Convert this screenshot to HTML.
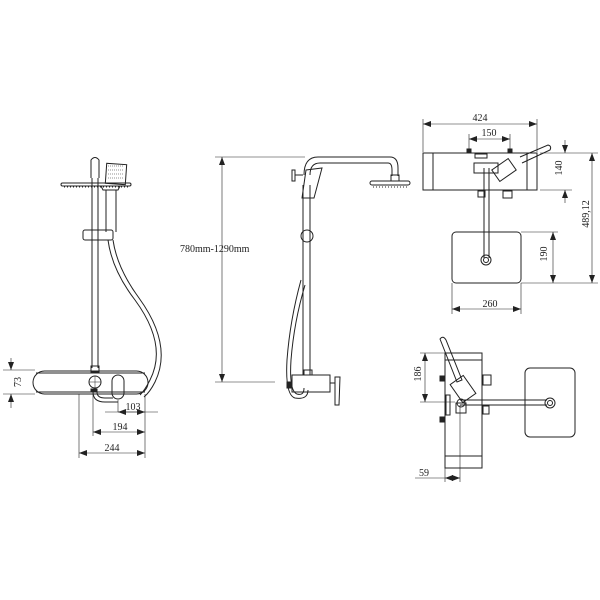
<!DOCTYPE html>
<html><head><meta charset="utf-8"><style>
html,body{margin:0;padding:0;background:#fff}
svg{display:block}
text{font-family:"Liberation Serif",serif;font-size:10px;fill:#222}
</style></head><body>
<svg width="600" height="600" viewBox="0 0 600 600" xmlns="http://www.w3.org/2000/svg">
<defs>
<marker id="a" markerWidth="8" markerHeight="6" refX="8" refY="3" orient="auto-start-reverse" markerUnits="userSpaceOnUse"><path d="M0,0 L8,3 L0,6 z" fill="#222"/></marker>
</defs>
<g fill="none" stroke="#222" stroke-width="1">
<!-- ===== VIEW 1 ===== -->
<!-- rail -->
<line x1="92" y1="178" x2="92" y2="368"/><line x1="98" y1="178" x2="98" y2="368"/>
<path d="M91,178 L91,160 Q95,155 99,160 L99,178"/>
<!-- head disc -->
<rect x="61" y="183" width="70" height="3" rx="1.5"/>
<path d="M64,187 h64" stroke-dasharray="1 2"/>
<!-- hand shower -->
<rect x="106" y="164" width="20" height="20" transform="rotate(4 116 174)"/>
<path d="M108,166 h16 M108,170 h16 M108,174 h16 M108,178 h16" stroke-width="0.5" stroke-dasharray="1 1"/>
<path d="M101,186 L103,190 L118,190 L120,186"/>
<line x1="106" y1="190" x2="106" y2="232"/><line x1="116" y1="190" x2="116" y2="232"/>
<!-- bracket -->
<rect x="83" y="230" width="30" height="10" rx="2"/>
<line x1="98" y1="230" x2="98" y2="240"/>
<!-- hose -->
<path d="M108,240 Q112,270 135,300 Q168,345 150,380 Q145,390 140,395"/>
<path d="M113,240 Q117,268 139,298 Q173,345 155,382 Q150,392 144,397"/>
<!-- body -->
<rect x="33" y="371" width="115" height="23" rx="11.5"/>
<line x1="36" y1="373" x2="145" y2="373"/>
<line x1="36" y1="392" x2="145" y2="392"/>
<rect x="91" y="366" width="8" height="6"/>
<circle cx="95" cy="382" r="6"/>
<path d="M95,376 v12 M89,382 h12" stroke-width="0.5"/>
<rect x="112" y="375" width="12" height="24" rx="6"/>
<path d="M93,392 Q93,402 105,402 L118,402"/>
<path d="M97,392 Q97,398 105,398 L113,398"/>
<rect x="91" y="389" width="6" height="3" fill="#222"/>
<!-- dims view 1 -->
<g stroke-width="0.6">
<line x1="3" y1="370" x2="35" y2="370"/><line x1="3" y1="394" x2="35" y2="394"/>
<line x1="11" y1="358" x2="11" y2="370" marker-end="url(#a)"/>
<line x1="11" y1="408" x2="11" y2="394" marker-end="url(#a)"/>
<line x1="79" y1="394" x2="79" y2="458"/><line x1="93" y1="394" x2="93" y2="436"/>
<line x1="118" y1="400" x2="118" y2="412"/><line x1="145" y1="394" x2="145" y2="458"/>
<line x1="105" y1="412" x2="158" y2="412"/>
<line x1="118" y1="412" x2="145" y2="412" marker-start="url(#a)" marker-end="url(#a)"/>
<line x1="93" y1="432" x2="145" y2="432" marker-start="url(#a)" marker-end="url(#a)"/>
<line x1="79" y1="453" x2="145" y2="453" marker-start="url(#a)" marker-end="url(#a)"/>
</g>
<!-- ===== VIEW 2 ===== -->
<g stroke-width="0.6">
<line x1="215" y1="157" x2="305" y2="157"/>
<line x1="215" y1="382" x2="275" y2="382"/>
<line x1="222" y1="157" x2="222" y2="382" marker-start="url(#a)" marker-end="url(#a)"/>
</g>
<line x1="303" y1="185" x2="303" y2="375"/><line x1="310" y1="185" x2="310" y2="375"/>
<path d="M304,175 Q304,157 318,157 L390,157 Q398,157 398,168 L398,176"/>
<path d="M310,175 Q310,163 320,163 L388,163 Q392,163 392,170 L392,176"/>
<rect x="391" y="175" width="8" height="6"/>
<rect x="370" y="181" width="40" height="4" rx="2"/>
<path d="M373,187 h35" stroke-dasharray="1 2"/>
<!-- holder -->
<rect x="292" y="170" width="3" height="11"/><line x1="295" y1="175" x2="303" y2="175"/>
<path d="M306,170 L322,168 L314,198 L302,198 Z"/>
<circle cx="307" cy="236" r="6"/>
<!-- hose -->
<path d="M301,280 Q290,320 287,360 Q285,395 295,398 Q308,400 308,390"/>
<path d="M305,285 Q294,322 291,360 Q289,391 297,394 Q304,396 304,388"/>
<!-- body -->
<rect x="304" y="370" width="8" height="5"/>
<rect x="292" y="375" width="38" height="17"/>
<rect x="287" y="382" width="5" height="6" fill="#222"/>
<path d="M335,377 L340,377 L339,405 L335,405 Z"/>
<line x1="330" y1="383" x2="335" y2="383"/>
<!-- ===== VIEW 3 ===== -->
<rect x="423" y="153" width="114" height="37"/>
<line x1="433" y1="153" x2="433" y2="190"/><line x1="527" y1="153" x2="527" y2="190"/>
<rect x="467" y="149" width="4" height="4" fill="#222"/><rect x="508" y="149" width="4" height="4" fill="#222"/>
<rect x="475" y="154" width="12" height="4"/>
<rect x="474" y="163" width="24" height="10"/>
<rect x="478" y="191" width="7" height="6"/><rect x="503" y="191" width="9" height="7"/>
<rect x="452" y="232" width="69" height="51" rx="4"/>
<line x1="484" y1="168" x2="484" y2="258"/><line x1="489" y1="168" x2="489" y2="258"/>
<circle cx="486" cy="260" r="5"/><circle cx="486" cy="260" r="2.5"/>
<path d="M520,157 L548,145 Q552,146 550,150 L522,163"/>
<rect x="494" y="163" width="20" height="14" transform="rotate(-35 504 170)"/>
<g stroke-width="0.6">
<line x1="423" y1="119" x2="423" y2="152"/><line x1="537" y1="119" x2="537" y2="152"/>
<line x1="423" y1="124" x2="537" y2="124" marker-start="url(#a)" marker-end="url(#a)"/>
<line x1="469" y1="134" x2="469" y2="150"/><line x1="510" y1="134" x2="510" y2="150"/>
<line x1="469" y1="139" x2="510" y2="139" marker-start="url(#a)" marker-end="url(#a)"/>
<line x1="540" y1="153" x2="598" y2="153"/><line x1="540" y1="190" x2="572" y2="190"/>
<line x1="565" y1="140" x2="565" y2="153" marker-end="url(#a)"/>
<line x1="565" y1="203" x2="565" y2="190" marker-end="url(#a)"/>
<line x1="592" y1="153" x2="592" y2="283" marker-start="url(#a)" marker-end="url(#a)"/>
<line x1="521" y1="232" x2="558" y2="232"/><line x1="521" y1="283" x2="598" y2="283"/>
<line x1="553" y1="232" x2="553" y2="283" marker-start="url(#a)" marker-end="url(#a)"/>
<line x1="452" y1="283" x2="452" y2="314"/><line x1="521" y1="283" x2="521" y2="314"/>
<line x1="452" y1="309" x2="521" y2="309" marker-start="url(#a)" marker-end="url(#a)"/>
</g>
<!-- ===== VIEW 4 ===== -->
<rect x="445" y="353" width="37" height="115"/>
<line x1="445" y1="360" x2="482" y2="360"/><line x1="445" y1="456" x2="482" y2="456"/>
<rect x="440" y="376" width="4" height="5" fill="#222"/><rect x="440" y="417" width="4" height="5" fill="#222"/>
<rect x="446" y="395" width="4" height="20"/>
<rect x="483" y="375" width="8" height="10"/><rect x="483" y="406" width="6" height="8"/>
<path d="M440,339 Q443,335 446,340 L462,380 L457,382 Z"/>
<rect x="455" y="378" width="16" height="22" transform="rotate(-35 463 389)"/>
<rect x="456" y="403" width="10" height="10"/>
<line x1="460" y1="400" x2="547" y2="400"/><line x1="460" y1="405" x2="547" y2="405"/>
<circle cx="550" cy="403" r="5"/><circle cx="550" cy="403" r="2.5"/>
<circle cx="461" cy="403" r="4"/>
<rect x="525" y="368" width="50" height="69" rx="5"/>
<g stroke-width="0.6">
<line x1="420" y1="353" x2="445" y2="353"/><line x1="420" y1="402" x2="455" y2="402"/>
<line x1="425" y1="353" x2="425" y2="402" marker-start="url(#a)" marker-end="url(#a)"/>
<line x1="445" y1="468" x2="445" y2="482"/><line x1="460" y1="405" x2="460" y2="482"/>
<line x1="415" y1="478" x2="445" y2="478"/>
<line x1="445" y1="478" x2="460" y2="478" marker-start="url(#a)" marker-end="url(#a)"/>
</g>
</g>
<!-- text -->
<text x="14" y="389" transform="rotate(-90 14 382)" text-anchor="middle">73</text>
<text x="133" y="410" text-anchor="middle">103</text>
<text x="120" y="430" text-anchor="middle">194</text>
<text x="112" y="451" text-anchor="middle">244</text>
<text x="180" y="252" font-size="9.5">780mm-1290mm</text>
<text x="480" y="121" text-anchor="middle">424</text>
<text x="489" y="136" text-anchor="middle">150</text>
<text x="566" y="172" transform="rotate(-90 562 172)" text-anchor="middle">140</text>
<text x="593" y="218" transform="rotate(-90 589 218)" text-anchor="middle">489,12</text>
<text x="551" y="258" transform="rotate(-90 547 258)" text-anchor="middle">190</text>
<text x="490" y="307" text-anchor="middle">260</text>
<text x="425" y="378" transform="rotate(-90 421 378)" text-anchor="middle">186</text>
<text x="424" y="476" text-anchor="middle">59</text>
</svg>
</body></html>
